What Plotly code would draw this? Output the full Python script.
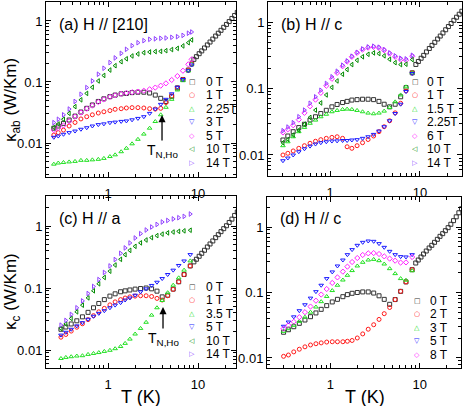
import plotly.graph_objects as go

W, H = 463, 406

# temperature grids (K)
T_A = [0.25, 0.28, 0.32, 0.37, 0.43, 0.5, 0.58, 0.67, 0.78, 0.9, 1.05, 1.2, 1.4,
       1.6, 1.85, 2.15, 2.5, 2.9, 3.35, 3.85, 4.4, 5.1, 5.9, 6.8, 7.8, 8.5]
T_G = [0.3, 0.34, 0.39, 0.45, 0.52, 0.6, 0.69, 0.79, 0.91, 1.05, 1.2, 1.38, 1.55,
       1.75, 2.0, 2.3, 2.65, 3.05, 3.5, 4.0, 4.6, 5.3, 6.1, 7.0, 8.2]
T_HIGH = [9, 9.6, 10.3, 11, 11.8, 12.7, 13.6, 14.6, 15.7, 16.8, 18, 19.3, 20.7,
          22.2, 23.8, 25.5, 27.3, 29.2]

# (a) kappa_ab, H // [210]
KA_0T = [0.0175, 0.019, 0.021, 0.0238, 0.0276, 0.0322, 0.037, 0.042, 0.048, 0.053, 0.0575, 0.061, 0.064,
         0.065, 0.067, 0.068, 0.068, 0.066, 0.061, 0.054, 0.048, 0.058, 0.08, 0.11, 0.157, 0.197]
KA_0T_HIGH = [0.235, 0.26, 0.291, 0.323, 0.361, 0.405, 0.452, 0.505, 0.566, 0.63, 0.703, 0.787, 0.877,
              0.978, 1.1, 1.23, 1.38, 1.55]
KA_1T = [0.0135, 0.0148, 0.0163, 0.019, 0.0217, 0.0248, 0.027, 0.029, 0.031, 0.0325, 0.034, 0.0357, 0.0365,
         0.0375, 0.038, 0.038, 0.0375, 0.0365, 0.036, 0.037, 0.046, 0.059, 0.08, 0.11, 0.157, 0.2]
KA_225T = [0.0045, 0.0047, 0.0048, 0.0049, 0.005, 0.0052, 0.0052, 0.0053, 0.0054, 0.0056, 0.006, 0.0064, 0.0072,
           0.0082, 0.0097, 0.0115, 0.014, 0.0175, 0.0225, 0.029, 0.0385, 0.052, 0.074, 0.105, 0.153, 0.197]
KA_3T = [0.0124, 0.013, 0.0139, 0.0148, 0.0157, 0.0168, 0.0178, 0.019, 0.02, 0.0206, 0.0215, 0.022, 0.0226,
         0.023, 0.024, 0.0253, 0.027, 0.0306, 0.036, 0.043, 0.052, 0.064, 0.082, 0.11, 0.153, 0.19]
KA_5T = [0.0163, 0.0176, 0.0194, 0.0226, 0.027, 0.0316, 0.0365, 0.041, 0.047, 0.052, 0.057, 0.0605, 0.064,
         0.066, 0.068, 0.0695, 0.072, 0.076, 0.081, 0.087, 0.095, 0.108, 0.125, 0.153, 0.195, 0.235]
KA_10T = [0.018, 0.0205, 0.0245, 0.0306, 0.0395, 0.051, 0.065, 0.082, 0.104, 0.128, 0.157, 0.185, 0.215,
          0.24, 0.267, 0.288, 0.302, 0.31, 0.315, 0.318, 0.326, 0.34, 0.356, 0.39, 0.44, 0.49]
KA_14T = [0.0216, 0.0245, 0.029, 0.036, 0.048, 0.063, 0.081, 0.104, 0.134, 0.168, 0.208, 0.248, 0.295,
          0.343, 0.394, 0.44, 0.476, 0.5, 0.51, 0.52, 0.526, 0.54, 0.553, 0.58, 0.63, 0.66]

# (b) kappa_ab, H // c
KB_0T = [0.0168, 0.0193, 0.0224, 0.0258, 0.029, 0.0335, 0.0376, 0.042, 0.047, 0.053, 0.0575, 0.0615, 0.064,
         0.067, 0.068, 0.069, 0.069, 0.068, 0.064, 0.058, 0.053, 0.058, 0.075, 0.103, 0.172]
KB_0T_HIGH = [0.23, 0.255, 0.285, 0.315, 0.355, 0.4, 0.445, 0.495, 0.555, 0.615, 0.685, 0.765, 0.855,
              0.95, 1.06, 1.18, 1.31, 1.45]
KB_1T = [0.01, 0.0106, 0.0115, 0.0126, 0.0138, 0.015, 0.0161, 0.017, 0.0178, 0.0184, 0.0188, 0.0178, 0.0133,
         0.0126, 0.0138, 0.0153, 0.0171, 0.0193, 0.0224, 0.0266, 0.0327, 0.043, 0.06, 0.092, 0.172]
KB_15T = [0.0138, 0.0158, 0.0188, 0.0224, 0.026, 0.03, 0.0335, 0.0376, 0.041, 0.0447, 0.0468, 0.0485, 0.049,
          0.0485, 0.0468, 0.0447, 0.0427, 0.0417, 0.0427, 0.0457, 0.052, 0.063, 0.08, 0.106, 0.172]
KB_225T = [0.0082, 0.009, 0.01, 0.0112, 0.0124, 0.0136, 0.0146, 0.0153, 0.0158, 0.0162, 0.0163, 0.0165, 0.0165,
           0.0168, 0.017, 0.0178, 0.0188, 0.0204, 0.0229, 0.0266, 0.0327, 0.042, 0.058, 0.09, 0.168]
KB_6T = [0.0218, 0.0243, 0.028, 0.034, 0.043, 0.054, 0.068, 0.086, 0.11, 0.14, 0.172, 0.216, 0.254,
         0.3, 0.343, 0.385, 0.412, 0.422, 0.408, 0.376, 0.335, 0.3, 0.272, 0.266, 0.305]
KB_10T = [0.0153, 0.0171, 0.02, 0.0237, 0.029, 0.0367, 0.0473, 0.0607, 0.08, 0.104, 0.13, 0.164, 0.193,
          0.229, 0.266, 0.3, 0.327, 0.343, 0.335, 0.31, 0.275, 0.245, 0.229, 0.232, 0.272]
KB_14T = [0.0232, 0.0263, 0.0306, 0.0376, 0.0473, 0.06, 0.075, 0.094, 0.119, 0.15, 0.182, 0.224, 0.26,
          0.306, 0.35, 0.394, 0.422, 0.432, 0.418, 0.385, 0.343, 0.31, 0.285, 0.279, 0.316]

# (c) kappa_c, H // a
KC_0T = [0.0216, 0.0235, 0.0263, 0.0296, 0.0343, 0.0405, 0.048, 0.0563, 0.065, 0.074, 0.0806, 0.087, 0.09,
         0.093, 0.096, 0.098, 0.1, 0.097, 0.089, 0.072, 0.0766, 0.096, 0.126, 0.165, 0.227]
KC_0T_HIGH = [0.264, 0.291, 0.325, 0.363, 0.406, 0.459, 0.513, 0.574, 0.649, 0.725, 0.811, 0.906, 1.01,
              1.14, 1.29, 1.48, 1.68, 1.9]
KC_1T = [0.0161, 0.0178, 0.0202, 0.0233, 0.0265, 0.0309, 0.0358, 0.0413, 0.047, 0.0535, 0.0598, 0.065, 0.069,
         0.072, 0.074, 0.075, 0.075, 0.073, 0.068, 0.064, 0.075, 0.095, 0.126, 0.165, 0.227]
KC_35T = [0.0073, 0.0076, 0.0078, 0.008, 0.0081, 0.0085, 0.0088, 0.0091, 0.0095, 0.0099, 0.0105, 0.0114, 0.0128,
          0.015, 0.0181, 0.0223, 0.028, 0.0365, 0.048, 0.063, 0.084, 0.111, 0.146, 0.194, 0.274]
KC_5T = [0.0174, 0.0193, 0.0216, 0.0245, 0.0276, 0.0313, 0.035, 0.039, 0.043, 0.048, 0.053, 0.058, 0.064,
         0.069, 0.0766, 0.087, 0.097, 0.11, 0.124, 0.142, 0.165, 0.194, 0.231, 0.273, 0.346]
KC_10T = [0.0223, 0.0263, 0.0323, 0.0413, 0.0529, 0.0693, 0.0902, 0.117, 0.148, 0.187, 0.235, 0.29, 0.345,
          0.405, 0.47, 0.535, 0.595, 0.65, 0.7, 0.74, 0.775, 0.8, 0.82, 0.835, 0.855]
KC_14T = [0.0252, 0.03, 0.0375, 0.048, 0.062, 0.0815, 0.106, 0.137, 0.178, 0.227, 0.288, 0.363, 0.443,
          0.533, 0.641, 0.753, 0.862, 0.964, 1.06, 1.16, 1.23, 1.3, 1.36, 1.43, 1.56]

# (d) kappa_c, H // c
KD_0T = [0.0247, 0.027, 0.03, 0.0338, 0.038, 0.0427, 0.0487, 0.0553, 0.063, 0.0717, 0.0786, 0.0863, 0.0928,
         0.0972, 0.1, 0.102, 0.102, 0.098, 0.089, 0.0785, 0.066, 0.078, 0.104, 0.145, 0.223]
KD_0T_HIGH = [0.282, 0.313, 0.348, 0.387, 0.43, 0.478, 0.525, 0.583, 0.648, 0.72, 0.791, 0.879, 0.977,
              1.1, 1.25, 1.43, 1.65, 1.9]
KD_2T = [0.0106, 0.0111, 0.0124, 0.0136, 0.0148, 0.0158, 0.0165, 0.017, 0.0175, 0.0177, 0.0177, 0.0177, 0.018,
         0.0185, 0.0202, 0.0233, 0.0275, 0.0322, 0.0388, 0.0475, 0.059, 0.078, 0.104, 0.145, 0.223]
KD_3T = [0.0255, 0.028, 0.0315, 0.0362, 0.042, 0.05, 0.06, 0.0724, 0.087, 0.107, 0.129, 0.155, 0.183,
         0.216, 0.254, 0.289, 0.313, 0.32, 0.306, 0.272, 0.231, 0.194, 0.163, 0.154, 0.215]
KD_5T = [0.0305, 0.0354, 0.0425, 0.0527, 0.065, 0.082, 0.103, 0.129, 0.163, 0.206, 0.254, 0.313, 0.378,
         0.451, 0.525, 0.583, 0.611, 0.604, 0.557, 0.489, 0.425, 0.378, 0.353, 0.349, 0.378]
KD_8T = [0.028, 0.0315, 0.0357, 0.042, 0.05, 0.061, 0.075, 0.093, 0.113, 0.14, 0.17, 0.208, 0.248,
         0.292, 0.336, 0.374, 0.396, 0.4, 0.387, 0.356, 0.329, 0.306, 0.286, 0.288, 0.348]

# marker styles per field colour
BLACK, RED, GREEN, BLUE = "#333333", "#ff1a1a", "#22e022", "#1a1aff"
MAGENTA, DKGREEN, PURPLE = "#ff22ff", "#008a00", "#9040ff"
GLYPH = {"square-open": "\u25a1", "circle-open": "\u25cb", "triangle-up-open": "\u25b3",
         "triangle-down-open": "\u25bd", "diamond-open": "\u25c7",
         "triangle-left-open": "\u25c1", "triangle-right-open": "\u25b7"}

PANELS = [
    # axis suffix, series (label, T, kappa, colour, symbol)
    ("", [("0 T", T_A + T_HIGH, KA_0T + KA_0T_HIGH, BLACK, "square-open"),
          ("1 T", T_A, KA_1T, RED, "circle-open"),
          ("2.25T", T_A, KA_225T, GREEN, "triangle-up-open"),
          ("3 T", T_A, KA_3T, BLUE, "triangle-down-open"),
          ("5 T", T_A, KA_5T, MAGENTA, "diamond-open"),
          ("10 T", T_A, KA_10T, DKGREEN, "triangle-left-open"),
          ("14 T", T_A, KA_14T, PURPLE, "triangle-right-open")]),
    ("2", [("0 T", T_G + T_HIGH, KB_0T + KB_0T_HIGH, BLACK, "square-open"),
           ("1 T", T_G, KB_1T, RED, "circle-open"),
           ("1.5 T", T_G, KB_15T, GREEN, "triangle-up-open"),
           ("2.25T", T_G, KB_225T, BLUE, "triangle-down-open"),
           ("6 T", T_G, KB_6T, MAGENTA, "diamond-open"),
           ("10 T", T_G, KB_10T, DKGREEN, "triangle-left-open"),
           ("14 T", T_G, KB_14T, PURPLE, "triangle-right-open")]),
    ("3", [("0 T", T_G + T_HIGH, KC_0T + KC_0T_HIGH, BLACK, "square-open"),
           ("1 T", T_G, KC_1T, RED, "circle-open"),
           ("3.5 T", T_G, KC_35T, GREEN, "triangle-up-open"),
           ("5 T", T_G, KC_5T, BLUE, "triangle-down-open"),
           ("10 T", T_G, KC_10T, DKGREEN, "triangle-left-open"),
           ("14 T", T_G, KC_14T, PURPLE, "triangle-right-open")]),
    ("4", [("0 T", T_G + T_HIGH, KD_0T + KD_0T_HIGH, BLACK, "square-open"),
           ("2 T", T_G, KD_2T, RED, "circle-open"),
           ("3 T", T_G, KD_3T, GREEN, "triangle-up-open"),
           ("5 T", T_G, KD_5T, BLUE, "triangle-down-open"),
           ("8 T", T_G, KD_8T, MAGENTA, "diamond-open")]),
]

# panel boxes in pixels: left, top, right, bottom; log ranges
BOXES = [(46, 2, 236, 177), (268, 2, 462, 176), (46, 196, 236, 368), (267, 197, 461, 368)]
XRANGES = [[-0.689, 1.422], [-0.689, 1.467], [-0.689, 1.422], [-0.708, 1.46]]
YRANGES = [[-2.557, 0.311], [-2.316, 0.301], [-2.29, 0.484], [-2.153, 0.458]]
PANEL_TEXT = ["(a) H // [210]", "(b) H // c", "(c) H // a", "(d) H // c"]
LEGEND_X = [(192, 204), (415, 425), (192, 204), (417, 428)]
LEGEND_Y0 = [81, 81, 286, 300]
ROW = 13.5

X_TICKS = [1, 10]
Y_TICKS = [0.01, 0.1, 1]
X_MINOR = [0.2, 0.3, 0.4, 0.5, 0.6, 0.7, 0.8, 0.9, 2, 3, 4, 5, 6, 7, 8, 9, 20, 30]
Y_MINOR = [m * d for d in (0.001, 0.01, 0.1, 1) for m in range(2, 10)]

FONT = "Liberation Sans, Arial, sans-serif"


def px(x):
    return x / W


def py(y):
    return 1 - y / H


fig = go.Figure()
annotations = []
layout_axes = {}

for i, (suf, series) in enumerate(PANELS):
    for label, tt, kk, col, sym in series:
        fig.add_trace(go.Scatter(
            x=tt, y=kk, mode="markers", name=label, showlegend=False,
            xaxis="x" + suf, yaxis="y" + suf,
            marker=dict(symbol=sym, size=4, color=col, line=dict(width=1, color=col))
        ))
    l, t, r, b = BOXES[i]
    common = dict(type="log", ticks="inside", ticklen=5, tickwidth=1, tickcolor="black",
                  showline=True, linecolor="black", linewidth=1, mirror="allticks",
                  showgrid=False, zeroline=False, tickmode="array",
                  tickfont=dict(family=FONT, size=13, color="black"))
    layout_axes["xaxis" + suf] = dict(
        common, domain=[px(l), px(r)], range=XRANGES[i], anchor="y" + suf,
        tickvals=X_TICKS, ticktext=["1", "10"], ticklabelstandoff=4,
        minor=dict(tickmode="array", tickvals=X_MINOR, ticks="inside", ticklen=3,
                   tickcolor="black", showgrid=False))
    layout_axes["yaxis" + suf] = dict(
        common, domain=[py(b), py(t)], range=YRANGES[i], anchor="x" + suf,
        tickvals=Y_TICKS, ticktext=["0.01", "0.1", "1"],
        minor=dict(tickmode="array", tickvals=Y_MINOR, ticks="inside", ticklen=3,
                   tickcolor="black", showgrid=False))

    # panel label
    annotations.append(dict(text=PANEL_TEXT[i], xref="paper", yref="paper",
                            x=px(l + 11), y=py(t + 22), xanchor="left", yanchor="middle",
                            showarrow=False, font=dict(family=FONT, size=16, color="black")))
    # in-plot legend
    sx, tx = LEGEND_X[i]
    for j, (label, tt, kk, col, sym) in enumerate(series):
        yy = LEGEND_Y0[i] + ROW * j
        annotations.append(dict(text=GLYPH[sym], xref="paper", yref="paper", x=px(sx), y=py(yy),
                                xanchor="center", yanchor="middle", showarrow=False, height=11,
                                font=dict(family="DejaVu Sans", size=7, color=col)))
        annotations.append(dict(text=label, xref="paper", yref="paper", x=px(tx), y=py(yy),
                                xanchor="left", yanchor="middle", showarrow=False, height=13,
                                font=dict(family=FONT, size=12, color="black")))

# Neel temperature arrows (log coordinates)
annotations.append(dict(text="T<sub>N,Ho</sub>", xref="x", yref="y", x=0.6, y=-1.541,
                        ax=0, ay=36, showarrow=True, arrowhead=2, arrowsize=1.1, arrowwidth=1.3,
                        arrowcolor="black", font=dict(family=FONT, size=14, color="black")))
annotations.append(dict(text="T<sub>N,Ho</sub>", xref="x3", yref="y3", x=0.611, y=-1.306,
                        ax=0, ay=32, showarrow=True, arrowhead=2, arrowsize=1.1, arrowwidth=1.3,
                        arrowcolor="black", font=dict(family=FONT, size=14, color="black")))

# axis titles
annotations.append(dict(text="\u03ba<sub>ab</sub> (W/Km)", xref="paper", yref="paper",
                        x=px(12), y=py(100), textangle=-90, showarrow=False,
                        xanchor="center", yanchor="middle",
                        font=dict(family=FONT, size=17, color="black")))
annotations.append(dict(text="\u03ba<sub>c</sub> (W/Km)", xref="paper", yref="paper",
                        x=px(12), y=py(292), textangle=-90, showarrow=False,
                        xanchor="center", yanchor="middle",
                        font=dict(family=FONT, size=17, color="black")))
for cx in (141, 365):
    annotations.append(dict(text="T (K)", xref="paper", yref="paper", x=px(cx), y=py(397),
                            showarrow=False, xanchor="center", yanchor="middle",
                            font=dict(family=FONT, size=18, color="black")))

fig.update_layout(
    width=W, height=H, margin=dict(l=0, r=0, t=0, b=0),
    paper_bgcolor="white", plot_bgcolor="white",
    showlegend=False, annotations=annotations, **layout_axes
)

fig.write_html("out.html", config={"displayModeBar": False},
               post_script="document.body.style.margin='0';")
